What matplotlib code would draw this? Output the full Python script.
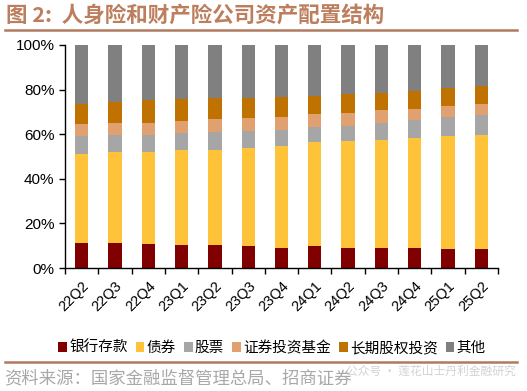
import matplotlib
matplotlib.use("Agg")
import matplotlib.pyplot as plt
import numpy as np
from matplotlib.ticker import FuncFormatter

plt.rcParams['font.family'] = ['Noto Sans CJK SC', 'DejaVu Sans']

quarters = ["22Q2", "22Q3", "22Q4", "23Q1", "23Q2", "23Q3", "23Q4",
            "24Q1", "24Q2", "24Q3", "24Q4", "25Q1", "25Q2"]
series_names = ["银行存款", "债券", "股票", "证券投资基金", "长期股权投资", "其他"]
bank_deposits = [11.2, 11.0, 10.7, 10.3, 10.1, 9.7, 9.1, 10.0, 9.1, 8.8, 9.0, 8.7, 8.7]
bonds = [40.0, 41.2, 41.2, 42.4, 43.0, 44.2, 45.7, 46.4, 47.9, 48.7, 49.5, 50.6, 51.0]
stocks = [8.1, 7.4, 7.7, 7.9, 7.9, 7.6, 7.1, 6.7, 6.7, 7.4, 7.8, 8.3, 8.8]
funds = [5.3, 5.5, 5.6, 5.5, 6.0, 5.8, 5.7, 5.9, 5.9, 5.8, 5.0, 5.1, 5.1]
lt_equity = [8.8, 9.2, 10.0, 9.7, 9.1, 9.1, 9.0, 8.2, 8.3, 7.8, 8.0, 7.9, 7.9]
others = [26.6, 25.7, 24.8, 24.2, 23.9, 23.6, 23.4, 22.8, 22.1, 21.5, 20.7, 19.4, 18.5]

colors = ["#800000", "#FFC33A", "#A6A6A6", "#E0A070", "#BF7200", "#808080"]

W, H = 527, 391
fig = plt.figure(figsize=(W / 100, H / 100), dpi=100)
ax = fig.add_axes([65 / W, 1 - 268 / H, (498 - 65) / W, (268 - 45) / H])

data = [bank_deposits, bonds, stocks, funds, lt_equity, others]
x = np.arange(len(quarters))
bottom = np.zeros(len(quarters))
handles = []
for name, vals, c in zip(series_names, data, colors):
    v = np.array(vals)
    b = ax.bar(x, v, bottom=bottom, width=0.4, color=c, label=name, linewidth=0)
    handles.append(b)
    bottom += v

ax.set_xlim(-0.5, len(quarters) - 0.5)
ax.set_ylim(0, 100)
ax.set_yticks([0, 20, 40, 60, 80, 100])
ax.yaxis.set_major_formatter(FuncFormatter(lambda v, p: f"{int(v)}%"))
ax.set_xticks(x)
ax.set_xticklabels(quarters, rotation=45, ha='right', rotation_mode='anchor',
                   fontsize=10.5, family=['Liberation Sans', 'DejaVu Sans'])
ax.set_xticks(np.arange(-0.5, len(quarters)), minor=True)
ax.tick_params(axis='x', which='major', length=0, pad=8)
ax.tick_params(axis='x', which='minor', length=4, direction='out', width=1)
ax.tick_params(axis='y', length=4, direction='out', width=1, labelsize=11)
for lbl in ax.get_yticklabels():
    lbl.set_family(['Liberation Sans', 'DejaVu Sans'])
for s in ['top', 'right']:
    ax.spines[s].set_visible(False)
for s in ['left', 'bottom']:
    ax.spines[s].set_color('black')
    ax.spines[s].set_linewidth(1)

leg = fig.legend(handles=handles, labels=series_names, loc='center',
                 bbox_to_anchor=(272 / W, 1 - 348 / H), ncol=6, frameon=False,
                 fontsize=10.5, handlelength=0.6, handleheight=0.6,
                 handletextpad=0.15, columnspacing=0.55)

# Title
fig.text(6 / W, 1 - 15 / H, "图 2:  人身险和财产险公司资产配置结构", fontsize=15.5,
         fontweight='bold', color='#BC7E5C', va='center', ha='left')
fig.add_artist(plt.Line2D([5 / W, 517 / W], [1 - 29.5 / H, 1 - 29.5 / H],
                          color='#B07A5E', linewidth=1.8))
fig.add_artist(plt.Line2D([5 / W, 517 / W], [1 - 362 / H, 1 - 362 / H],
                          color='#B07A5E', linewidth=1.8))
fig.text(4 / W, 1 - 378 / H, "资料来源：国家金融监督管理总局、招商证券", fontsize=12.5,
         color='#A8A8A8', va='center', ha='left')
fig.text(516 / W, 1 - 371 / H, "公众号 · 莲花山士丹利金融研究", fontsize=8.5,
         color='#C8C8C8', va='center', ha='right', alpha=0.8)

fig.savefig("out.png", dpi=100)
